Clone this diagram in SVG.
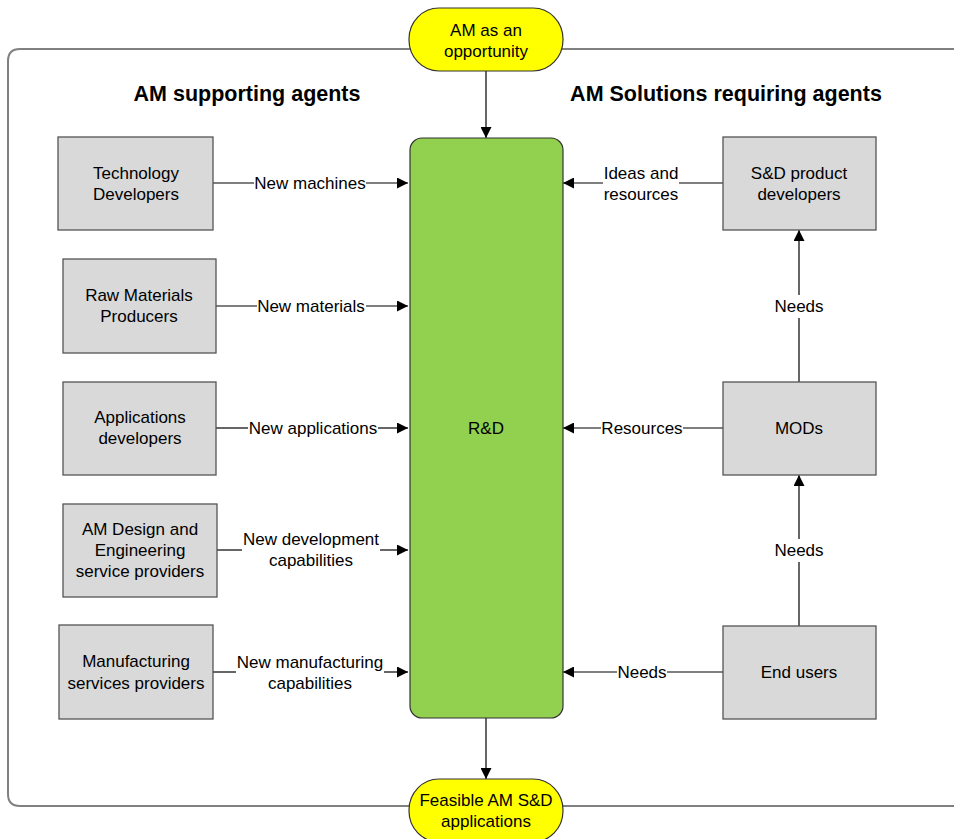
<svg xmlns="http://www.w3.org/2000/svg" width="954" height="839" viewBox="0 0 954 839">
  <style>
    text { font-family: "Liberation Sans", Arial, sans-serif; font-size: 17px; fill: #000; text-anchor: middle; }
    .heading { font-size: 21.5px; font-weight: bold; }
    .agent { fill: #D9D9D9; stroke: #555; stroke-width: 1.3; }
    .pill { fill: #FFFF00; stroke: #333; stroke-width: 1.2; }
    .rd { fill: #92D050; stroke: #333; stroke-width: 1.2; }
    .frame { fill: none; stroke: #808080; stroke-width: 2; }
    .wire { fill: none; stroke: #000; stroke-width: 1.2; }
  </style>
  <defs>
    <marker id="arrow" viewBox="0 0 10 10" refX="10" refY="5" markerWidth="11" markerHeight="11" markerUnits="userSpaceOnUse" orient="auto">
      <path d="M0,0 L10,5 L0,10 Z" fill="#000"/>
    </marker>
  </defs>

  <rect width="954" height="839" fill="#fff"/>

  <!-- outer boundary -->
  <path class="frame" d="M965,49 H20 Q8,49 8,61 V794 Q8,806 20,806 H965"/>

  <!-- section headings -->
  <text class="heading" x="247" y="101">AM supporting agents</text>
  <text class="heading" x="726" y="101">AM Solutions requiring agents</text>

  <!-- connectors -->
  <g id="connectors">
    <line class="wire" x1="486" y1="71" x2="486" y2="138" marker-end="url(#arrow)"/>
    <line class="wire" x1="486" y1="718" x2="486" y2="779" marker-end="url(#arrow)"/>

    <line class="wire" x1="213" y1="183" x2="254" y2="183"/>
    <line class="wire" x1="366" y1="183" x2="408" y2="183" marker-end="url(#arrow)"/>
    <text x="310" y="189">New machines</text>

    <line class="wire" x1="216" y1="306" x2="257" y2="306"/>
    <line class="wire" x1="366" y1="306" x2="408" y2="306" marker-end="url(#arrow)"/>
    <text x="311" y="312">New materials</text>

    <line class="wire" x1="216" y1="428" x2="248" y2="428"/>
    <line class="wire" x1="378" y1="428" x2="408" y2="428" marker-end="url(#arrow)"/>
    <text x="313" y="434">New applications</text>

    <line class="wire" x1="217" y1="550" x2="242" y2="550"/>
    <line class="wire" x1="380" y1="550" x2="408" y2="550" marker-end="url(#arrow)"/>
    <text x="311" y="545">New development</text>
    <text x="311" y="566">capabilities</text>

    <line class="wire" x1="213" y1="672" x2="236" y2="672"/>
    <line class="wire" x1="384" y1="672" x2="408" y2="672" marker-end="url(#arrow)"/>
    <text x="310" y="668">New manufacturing</text>
    <text x="310" y="689">capabilities</text>

    <line class="wire" x1="723" y1="183" x2="679" y2="183"/>
    <line class="wire" x1="603" y1="183" x2="563" y2="183" marker-end="url(#arrow)"/>
    <text x="641" y="179">Ideas and</text>
    <text x="641" y="200">resources</text>

    <line class="wire" x1="723" y1="428" x2="683" y2="428"/>
    <line class="wire" x1="601" y1="428" x2="563" y2="428" marker-end="url(#arrow)"/>
    <text x="642" y="434">Resources</text>

    <line class="wire" x1="723" y1="672" x2="667" y2="672"/>
    <line class="wire" x1="617" y1="672" x2="563" y2="672" marker-end="url(#arrow)"/>
    <text x="642" y="678">Needs</text>

    <line class="wire" x1="799" y1="382" x2="799" y2="318"/>
    <line class="wire" x1="799" y1="295" x2="799" y2="230" marker-end="url(#arrow)"/>
    <text x="799" y="312">Needs</text>

    <line class="wire" x1="799" y1="626" x2="799" y2="562"/>
    <line class="wire" x1="799" y1="539" x2="799" y2="475" marker-end="url(#arrow)"/>
    <text x="799" y="556">Needs</text>
  </g>

  <!-- start and end -->
  <g id="opportunity">
    <rect class="pill" x="409" y="8" width="154" height="63" rx="30" ry="31"/>
    <text x="486" y="36">AM as an</text>
    <text x="486" y="57">opportunity</text>
  </g>
  <g id="feasible-applications">
    <rect class="pill" x="409" y="779" width="154" height="63" rx="30" ry="31"/>
    <text x="486" y="806">Feasible AM S&amp;D</text>
    <text x="486" y="827">applications</text>
  </g>

  <!-- central R&D block -->
  <g id="rd">
    <rect class="rd" x="410" y="138" width="153" height="580" rx="12" ry="12"/>
    <text x="486" y="434">R&amp;D</text>
  </g>

  <!-- supporting agents -->
  <g id="technology-developers">
    <rect class="agent" x="58" y="137" width="155" height="93"/>
    <text x="136" y="179">Technology</text>
    <text x="136" y="200">Developers</text>
  </g>
  <g id="raw-materials-producers">
    <rect class="agent" x="63" y="259" width="153" height="94"/>
    <text x="139" y="301">Raw Materials</text>
    <text x="139" y="322">Producers</text>
  </g>
  <g id="applications-developers">
    <rect class="agent" x="63" y="382" width="153" height="93"/>
    <text x="140" y="423">Applications</text>
    <text x="140" y="444">developers</text>
  </g>
  <g id="design-engineering-providers">
    <rect class="agent" x="63" y="504" width="154" height="93"/>
    <text x="140" y="535">AM Design and</text>
    <text x="140" y="556">Engineering</text>
    <text x="140" y="577">service providers</text>
  </g>
  <g id="manufacturing-providers">
    <rect class="agent" x="59" y="625" width="154" height="94"/>
    <text x="136" y="667">Manufacturing</text>
    <text x="136" y="689">services providers</text>
  </g>

  <!-- solution-requiring agents -->
  <g id="product-developers">
    <rect class="agent" x="723" y="137" width="153" height="93"/>
    <text x="799" y="179">S&amp;D product</text>
    <text x="799" y="200">developers</text>
  </g>
  <g id="mods">
    <rect class="agent" x="723" y="382" width="153" height="93"/>
    <text x="799" y="434">MODs</text>
  </g>
  <g id="end-users">
    <rect class="agent" x="723" y="626" width="153" height="93"/>
    <text x="799" y="678">End users</text>
  </g>
</svg>
